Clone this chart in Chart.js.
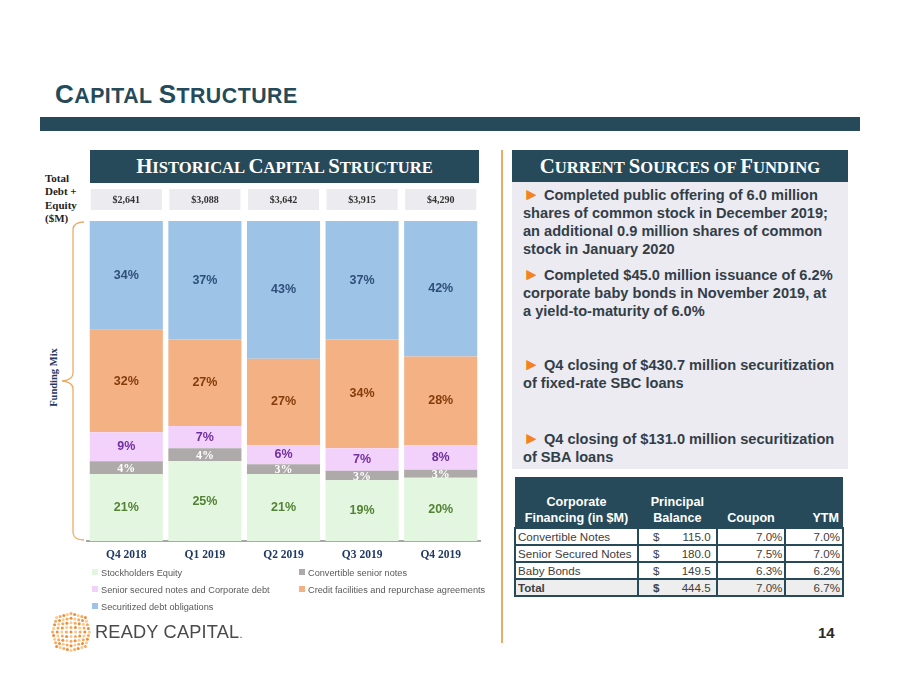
<!DOCTYPE html>
<html>
<head>
<meta charset="utf-8">
<script src="https://cdn.jsdelivr.net/npm/chart.js@4.4.1/dist/chart.umd.min.js"></script>
<style>
  body { margin: 0; width: 900px; height: 695px; background: #fff; position: relative; overflow: hidden;
         font-family: "Liberation Sans", Arial, sans-serif; }
  .abs { position: absolute; }
  .title { left: 55px; top: 79px; color: #254b5b; font-weight: bold; white-space: nowrap; letter-spacing: 0.5px; }
  .title .big { font-size: 26px; }
  .title .sm { font-size: 21.3px; }
  .bar { left: 40px; top: 117px; width: 820px; height: 14px; background: #264a5a; }
  .hdr { background: #264a5a; color: #fff; font-family: "Liberation Serif", serif; font-weight: bold;
         text-align: center; line-height: 32px; white-space: nowrap; }
  .hdr .big { font-size: 20.8px; }
  .hdr .sm { font-size: 16.6px; }
  .side { left: 45px; top: 172px; font-family: "Liberation Serif", serif; font-weight: bold;
          font-size: 11px; line-height: 13.3px; color: #222; }
  .fmix { left: 18px; top: 372px; width: 70px; text-align: center; transform: rotate(-90deg); white-space: nowrap;
          font-family: "Liberation Serif", serif; font-weight: bold; font-size: 10.5px; color: #1f3864; }
  .divider { left: 501px; top: 150px; width: 2px; height: 493px; background: #e9ad68; }
  .panel { left: 512px; top: 182px; width: 336px; height: 287px; background: #ecebf1; }
  .pt { left: 523px; width: 312px; font-weight: bold; font-size: 14.6px; line-height: 18px; color: #333e48; }
  .pt b { color: #f58220; font-size: 17px; line-height: 10px; }
  #legend { left: 92px; top: 566px; width: 400px; display: grid; grid-template-columns: 207px 193px;
            row-gap: 3px; font-size: 9.2px; color: #595959; }
  #legend div { height: 14px; line-height: 14px; white-space: nowrap; }
  #legend span { display: inline-block; width: 6px; height: 6px; margin-right: 3px; vertical-align: 1px; }
  table { border-collapse: collapse; font-size: 11.6px; color: #404040; }
  .tbl { left: 514px; top: 477px; width: 330px; }
  .tbl th { background: #264a5a; color: #fff; font-size: 12.6px; font-weight: bold; line-height: 16px;
            vertical-align: bottom; padding: 0 4px 1px 4px; height: 49px; }
  .tbl td { border: 2px solid #264a5a; height: 15px; line-height: 15px; padding: 0 2px; background: #fff; }
  .tbl tr.tot td { background: #eeeeee; }
  .num { text-align: right; }
  .pg { left: 818px; top: 624px; font-weight: bold; font-size: 15px; color: #2b2b2b; }
  .logo { left: 95px; top: 622px; font-size: 18.2px; color: #4a4a4a; letter-spacing: 0.2px; }
</style>
</head>
<body>
<div class="abs title"><span class="big">C</span><span class="sm">APITAL </span><span class="big">S</span><span class="sm">TRUCTURE</span></div>
<div class="abs bar"></div>

<div class="abs hdr" style="left:90px;top:150px;width:389px;height:33px;"><span class="big">H</span><span class="sm">ISTORICAL </span><span class="big">C</span><span class="sm">APITAL </span><span class="big">S</span><span class="sm">TRUCTURE</span></div>
<div class="abs side">Total<br>Debt +<br>Equity<br>($M)</div>
<div class="abs fmix">Funding Mix</div>
<svg class="abs" style="left:55px;top:215px;" width="35" height="332">
  <path d="M29,7 Q19,7 18,14 L18,158 Q18,165 7,166 Q18,167 18,174 L18,318 Q19,325 29,325"
        fill="none" stroke="#e9ad68" stroke-width="1.3"/>
</svg>

<div class="abs" style="left:40px;top:180px;">
  <canvas id="capChart" width="450" height="389"></canvas>
</div>
<div class="abs" id="legend"></div>

<div class="abs divider"></div>
<div class="abs hdr" style="left:512px;top:150px;width:336px;height:32px;"><span class="big">C</span><span class="sm">URRENT </span><span class="big">S</span><span class="sm">OURCES OF </span><span class="big">F</span><span class="sm">UNDING</span></div>
<div class="abs panel"></div>
<div class="abs pt" style="top:186px;"><b>&#9658;</b> Completed public offering of 6.0 million shares of common stock in December 2019; an additional 0.9 million shares of common stock in January 2020</div>
<div class="abs pt" style="top:266px;"><b>&#9658;</b> Completed $45.0 million issuance of 6.2% corporate baby bonds in November 2019, at a yield-to-maturity of 6.0%</div>
<div class="abs pt" style="top:356px;"><b>&#9658;</b> Q4 closing of $430.7 million securitization of fixed-rate SBC loans</div>
<div class="abs pt" style="top:430px;"><b>&#9658;</b> Q4 closing of $131.0 million securitization of SBA loans</div>

<table class="abs tbl">
  <tr><th style="width:116px;text-align:center;">Corporate<br>Financing (in $M)</th>
      <th style="width:71px;text-align:center;">Principal<br>Balance</th>
      <th style="width:61px;text-align:center;">Coupon</th>
      <th style="width:50px;text-align:right;">YTM</th></tr>
  <tr><td>Convertible Notes</td><td><span style="float:left;padding-left:12px;">$</span><span style="float:right;padding-right:3px;">115.0</span></td><td class="num">7.0%</td><td class="num">7.0%</td></tr>
  <tr><td>Senior Secured Notes</td><td><span style="float:left;padding-left:12px;">$</span><span style="float:right;padding-right:3px;">180.0</span></td><td class="num">7.5%</td><td class="num">7.0%</td></tr>
  <tr><td>Baby Bonds</td><td><span style="float:left;padding-left:12px;">$</span><span style="float:right;padding-right:3px;">149.5</span></td><td class="num">6.3%</td><td class="num">6.2%</td></tr>
  <tr class="tot"><td><b>Total</b></td><td><b style="float:left;padding-left:12px;">$</b><span style="float:right;padding-right:3px;">444.5</span></td><td class="num">7.0%</td><td class="num">6.7%</td></tr>
</table>

<svg class="abs" id="mark" style="left:50px;top:611px;" width="42" height="42"></svg>
<div class="abs logo">READY CAPITAL<span style="font-size:11px;">.</span></div>
<div class="abs pg">14</div>

<script>
var categories = ["Q4 2018", "Q1 2019", "Q2 2019", "Q3 2019", "Q4 2019"];
var totals = ["$2,641", "$3,088", "$3,642", "$3,915", "$4,290"];
// percent of total debt + equity, bottom to top
var equity = [21, 25, 21, 19, 19.8];
var convertible = [4, 4, 3, 3, 2.5];
var seniorSecured = [9, 7, 6, 7, 7.7];
var creditFacilities = [32, 27, 27, 34, 27.7];
var securitized = [34, 37, 43, 37, 42.3];

var series = [
    { label: "Stockholders Equity", data: equity, backgroundColor: "#e3f7e0", text: "#548235", serif: false },
    { label: "Convertible senior notes", data: convertible, backgroundColor: "#aeaaaa", text: "#ffffff", serif: true },
    { label: "Senior secured notes and Corporate debt", data: seniorSecured, backgroundColor: "#f2d2fb", text: "#7030a0", serif: false },
    { label: "Credit facilities and repurchase agreements", data: creditFacilities, backgroundColor: "#f4b183", text: "#843c0c", serif: false },
    { label: "Securitized debt obligations", data: securitized, backgroundColor: "#9dc3e6", text: "#2f4f7a", serif: false }
];

// percentage labels inside segments + total boxes above bars
var segmentLabels = {
    id: "segmentLabels",
    afterDatasetsDraw: function(chart) {
        var ctx = chart.ctx;
        ctx.save();
        ctx.textAlign = "center";
        ctx.textBaseline = "middle";
        chart.data.datasets.forEach(function(ds, di) {
            var meta = chart.getDatasetMeta(di);
            ctx.fillStyle = ds.text;
            ctx.font = ds.serif ? "bold 12px 'Liberation Serif'" : "bold 12.5px 'Liberation Sans'";
            meta.data.forEach(function(bar, i) {
                var y = (bar.y + bar.base) / 2 + (ds.serif ? 1 : 0);
                ctx.fillText(Math.round(ds.data[i]) + "%", bar.x, y);
            });
        });
        var first = chart.getDatasetMeta(0);
        first.data.forEach(function(bar, i) {
            var w = bar.width - 2;
            ctx.fillStyle = "#ecebf0";
            ctx.fillRect(bar.x - w / 2, chart.chartArea.top - 32, w, 21);
            ctx.fillStyle = "#333333";
            ctx.font = "bold 10px 'Liberation Serif'";
            ctx.fillText(totals[i], bar.x, chart.chartArea.top - 21);
        });
        ctx.restore();
    }
};

var ctx = document.getElementById("capChart").getContext("2d");
var chart = new Chart(ctx, {
    type: "bar",
    data: {
        labels: categories,
        datasets: series.map(function(s) {
            return {
                label: s.label,
                data: s.data,
                backgroundColor: s.backgroundColor,
                borderWidth: 0,
                text: s.text,
                serif: s.serif,
                categoryPercentage: 1,
                barPercentage: 0.93
            };
        })
    },
    options: {
        responsive: false,
        animation: false,
        layout: { padding: { left: 47, right: 10, top: 41, bottom: 0 } },
        plugins: { legend: { display: false }, tooltip: { enabled: false } },
        scales: {
            x: {
                stacked: true,
                grid: { display: false, drawTicks: false },
                border: { display: true, color: "#a6a6a6", width: 2 },
                ticks: { color: "#1f3864", padding: 7, font: { family: "Liberation Serif", weight: "bold", size: 11.5 } }
            },
            y: { stacked: true, display: false, min: 0, max: 100 }
        }
    },
    plugins: [segmentLabels]
});

// legend built from the datasets
var legend = document.getElementById("legend");
series.forEach(function(s) {
    var d = document.createElement("div");
    d.innerHTML = '<span style="background:' + s.backgroundColor + '"></span>' + s.label;
    legend.appendChild(d);
});

// logo dot mark
var mark = document.getElementById("mark");
var dots = "";
for (var r = 0; r < 9; r++) {
    for (var c = 0; c < 9; c++) {
        var dy = Math.abs(r - 4), dx = Math.abs(c - 4);
        var x = 21 + (c - 4) * (4.6 - dy * 0.25);
        var y = 21 + (r - 4) * (4.6 - dx * 0.25);
        var col = ["#f9c98f", "#f6a95e", "#f28c32"][(r + c) % 3];
        dots += '<circle cx="' + x.toFixed(1) + '" cy="' + y.toFixed(1) + '" r="1.5" fill="' + col + '"/>';
    }
}
mark.innerHTML = dots;
</script>
</body>
</html>
